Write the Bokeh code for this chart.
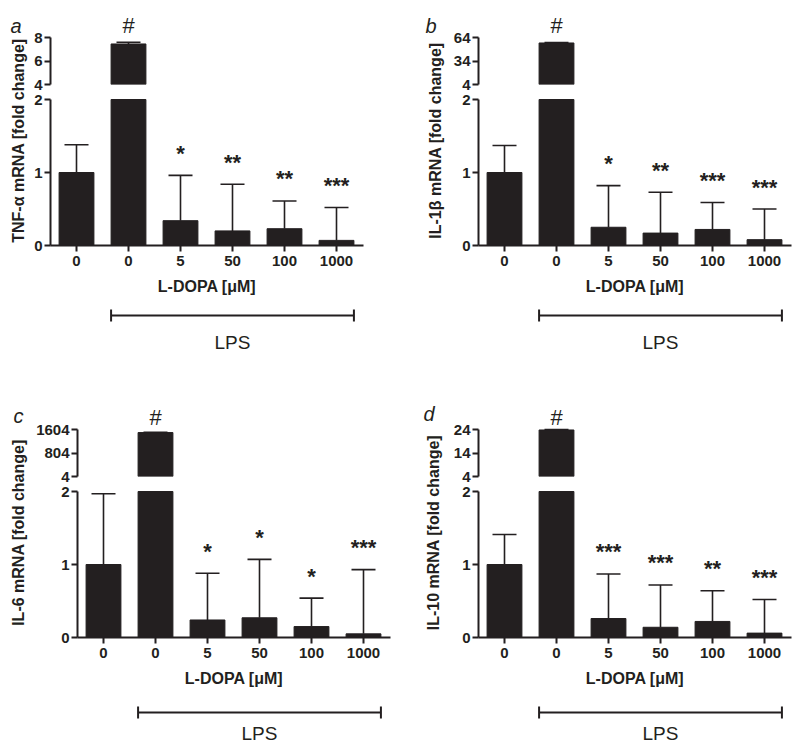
import numpy as np
from bokeh.plotting import figure
from bokeh.models import (ColumnDataSource, Range1d, FixedTicker, Whisker, TeeHead)
from bokeh.layouts import row, column
from bokeh.embed import file_html
from bokeh.resources import INLINE
from bokeh.core.properties import value

# ---------------- data ----------------
doses = ["0", "0", "5", "50", "100", "1000"]
positions = [1, 2, 3, 4, 5, 6]
lps_first, lps_last = 2, 6          # bars treated with LPS

tnf_mean = [1.0, 7.45, 0.34, 0.20, 0.23, 0.07]
tnf_err = [0.38, 0.15, 0.62, 0.64, 0.38, 0.45]
tnf_sig = ["", "#", "*", "**", "**", "***"]
tnf_up_ticks = [4, 6, 8]

il1b_mean = [1.0, 57.0, 0.25, 0.17, 0.22, 0.08]
il1b_err = [0.37, 0.5, 0.57, 0.56, 0.37, 0.42]
il1b_sig = ["", "#", "*", "**", "***", "***"]
il1b_up_ticks = [4, 34, 64]

il6_mean = [1.0, 1500.0, 0.24, 0.27, 0.15, 0.05]
il6_err = [0.97, 5.0, 0.64, 0.80, 0.39, 0.88]
il6_sig = ["", "#", "*", "*", "*", "***"]
il6_up_ticks = [4, 804, 1604]

il10_mean = [1.0, 23.8, 0.26, 0.14, 0.22, 0.06]
il10_err = [0.41, 0.2, 0.61, 0.58, 0.42, 0.46]
il10_sig = ["", "#", "***", "***", "**", "***"]
il10_up_ticks = [4, 14, 24]

# ---------------- style / layout ----------------
FONT = "Liberation Sans"
INK = "#231f20"
BAR_W = 0.67
LOW_TOP = 2        # top of lower axis segment
UP_BOTTOM = 4      # bottom of upper axis segment
FRAME_W = 313
PX_X = 52          # px per category step
PX_LOW = 73        # px per unit on lower segment
UP_SPAN_PX = 47    # px length of upper axis segment
UP_FRAME_H = 78
LOW_FRAME_H = 153
UP_TOP_B, UP_BOT_B = 6, 8
LOW_TOP_B, LOW_BOT_B = 0, 55
COL_W = 400


def style_axis(ax):
    ax.axis_line_color = INK
    ax.axis_line_width = 2
    ax.major_tick_line_color = INK
    ax.major_tick_line_width = 2
    ax.major_tick_out = 6
    ax.major_tick_in = 0
    ax.minor_tick_line_color = None
    ax.major_label_text_font = FONT
    ax.major_label_text_font_style = "bold"
    ax.major_label_text_font_size = "15px"
    ax.major_label_text_color = INK


def base_fig(**kw):
    p = figure(output_backend="svg", toolbar_location=None,
               outline_line_color=None, background_fill_color="white",
               border_fill_color="white", **kw)
    p.grid.visible = False
    return p


def make_panel(letter, ylabel, mean, err, sig, up_ticks, row_h, strip_w, frame_left,
               title_x, title_y, letter_x, letter_base, bracket_y, lps_y):
    mean = np.asarray(mean, float)
    err = np.asarray(err, float)
    sig = np.asarray(sig)
    x = np.asarray(positions, float)
    up_top = up_ticks[-1]
    upu = (up_top - UP_BOTTOM) / UP_SPAN_PX
    low = mean < LOW_TOP
    high = mean > UP_BOTTOM
    mbl = frame_left - strip_w
    mbr = COL_W - strip_w - mbl - FRAME_W
    xr = Range1d(0.5, 0.5 + FRAME_W / PX_X)

    # ---- strip with y title and panel letter ----
    strip = base_fig(frame_width=strip_w, frame_height=row_h,
                     min_border_left=0, min_border_right=0,
                     min_border_top=0, min_border_bottom=0,
                     x_range=Range1d(0, strip_w), y_range=Range1d(row_h, 0),
                     x_axis_location=None, y_axis_location=None)
    strip.text(x=[title_x], y=[title_y], text=[ylabel], angle=np.pi / 2,
               text_align="center", text_baseline="middle",
               text_font=value(FONT), text_font_style="bold",
               text_font_size="16px", text_color=INK)
    strip.text(x=[letter_x], y=[letter_base], text=[letter],
               text_align="left", text_baseline="alphabetic",
               text_font=value(FONT), text_font_style="italic",
               text_font_size="20px", text_color=INK)

    # ---- upper segment ----
    up = base_fig(frame_width=FRAME_W, frame_height=UP_FRAME_H,
                  min_border_left=mbl, min_border_right=mbr,
                  min_border_top=UP_TOP_B, min_border_bottom=UP_BOT_B,
                  x_range=xr, y_range=Range1d(UP_BOTTOM, UP_BOTTOM + UP_FRAME_H * upu),
                  x_axis_location=None)
    up.vbar(x=x[high], width=BAR_W, bottom=UP_BOTTOM, top=mean[high],
            fill_color=INK, line_color=INK)
    src_hi = ColumnDataSource(dict(x=x[high], m=mean[high], hi=mean[high] + err[high]))
    up.add_layout(Whisker(source=src_hi, base="x", lower="m", upper="hi",
                          dimension="height", lower_head=None,
                          upper_head=TeeHead(size=24, line_color=INK, line_width=1.6),
                          line_color=INK, line_width=1.6))
    up.text(x=x[high], y=[up_top] * int(high.sum()), text=sig[high],
            text_align="center", text_baseline="middle", y_offset=-12,
            text_font=value(FONT), text_font_size="22px", text_color=INK)
    ua = up.yaxis[0]
    ua.ticker = FixedTicker(ticks=up_ticks)
    ua.bounds = (UP_BOTTOM, up_top)
    style_axis(ua)
    ua.major_label_standoff = 2

    # ---- lower segment ----
    lo = base_fig(frame_width=FRAME_W, frame_height=LOW_FRAME_H,
                  min_border_left=mbl, min_border_right=mbr,
                  min_border_top=LOW_TOP_B, min_border_bottom=LOW_BOT_B,
                  x_range=xr, y_range=Range1d(0, LOW_FRAME_H / PX_LOW))
    lo.vbar(x=x, width=BAR_W, bottom=0, top=np.minimum(mean, LOW_TOP),
            fill_color=INK, line_color=INK)
    src_lo = ColumnDataSource(dict(x=x[low], m=mean[low], hi=mean[low] + err[low]))
    lo.add_layout(Whisker(source=src_lo, base="x", lower="m", upper="hi",
                          dimension="height", lower_head=None,
                          upper_head=TeeHead(size=24, line_color=INK, line_width=1.6),
                          line_color=INK, line_width=1.6))
    lo.text(x=x[low], y=mean[low] + err[low], text=sig[low],
            text_align="center", text_baseline="alphabetic", y_offset=-22,
            text_font=value(FONT), text_font_style="bold",
            text_font_size="22px", text_color=INK)
    xa = lo.xaxis[0]
    xa.ticker = FixedTicker(ticks=positions)
    xa.major_label_overrides = {pos: d for pos, d in zip(positions, doses)}
    xa.axis_label = "L-DOPA [μM]"
    style_axis(xa)
    xa.major_label_standoff = 4
    xa.axis_label_text_font = FONT
    xa.axis_label_text_font_style = "bold"
    xa.axis_label_text_font_size = "16px"
    xa.axis_label_text_color = INK
    xa.axis_label_standoff = 9
    ya = lo.yaxis[0]
    ya.ticker = FixedTicker(ticks=[0, 1, 2])
    ya.bounds = (0, LOW_TOP)
    style_axis(ya)
    ya.major_label_standoff = 2

    # ---- LPS bracket ----
    bh = row_h - (UP_TOP_B + UP_FRAME_H + UP_BOT_B + LOW_TOP_B + LOW_FRAME_H + LOW_BOT_B)
    br = base_fig(frame_width=FRAME_W, frame_height=bh,
                  min_border_left=mbl, min_border_right=mbr,
                  min_border_top=0, min_border_bottom=0,
                  x_range=xr, y_range=Range1d(bh, 0),
                  x_axis_location=None, y_axis_location=None)
    bsrc = ColumnDataSource(dict(base=[bracket_y], lower=[lps_first - BAR_W / 2],
                                 upper=[lps_last + BAR_W / 2]))
    br.add_layout(Whisker(source=bsrc, base="base", lower="lower", upper="upper",
                          dimension="width",
                          lower_head=TeeHead(size=12, line_color=INK, line_width=2),
                          upper_head=TeeHead(size=12, line_color=INK, line_width=2),
                          line_color=INK, line_width=2))
    br.text(x=[(lps_first + lps_last) / 2], y=[lps_y], text=["LPS"],
            text_align="center", text_baseline="middle",
            text_font=value(FONT), text_font_size="19px", text_color=INK)

    return row(strip, column(up, lo, br))


ROW1_H, ROW2_H = 392, 355
pa = make_panel("a", "TNF-α mRNA [fold change]", tnf_mean, tnf_err, tnf_sig,
                tnf_up_ticks, ROW1_H, 28, 50, 18, 140, 10, 25, 15, 42)
pb = make_panel("b", "IL-1β mRNA [fold change]", il1b_mean, il1b_err, il1b_sig,
                il1b_up_ticks, ROW1_H, 50, 77, 35, 140, 25, 25, 15, 42)
pc = make_panel("c", "IL-6 mRNA [fold change]", il6_mean, il6_err, il6_sig,
                il6_up_ticks, ROW2_H, 28, 77, 18, 140, 13, 23, 20, 41)
pd = make_panel("d", "IL-10 mRNA [fold change]", il10_mean, il10_err, il10_sig,
                il10_up_ticks, ROW2_H, 50, 77, 33, 140, 23, 21, 20, 41)

layout = column(row(pa, pb), row(pc, pd))

with open("out.html", "w") as f:
    f.write(file_html(layout, INLINE))
